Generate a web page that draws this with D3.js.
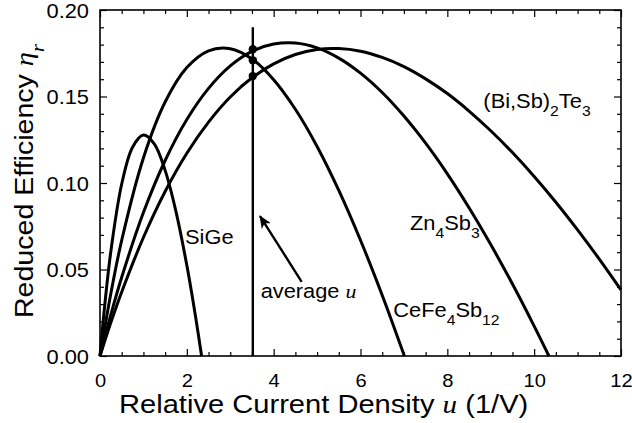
<!DOCTYPE html>
<html>
<head>
<meta charset="utf-8">
<script src="https://cdn.jsdelivr.net/npm/d3@7"></script>
<style>
  body { margin: 0; background: #fff; }
  svg { display: block; }
  text { font-family: "Liberation Sans", Arial, sans-serif; fill: #000; }
</style>
</head>
<body>
<svg id="chart" width="632" height="423"></svg>
<script>
// values
const xMajor = [0, 2, 4, 6, 8, 10, 12];
const yMajor = [0, 0.05, 0.10, 0.15, 0.20];

const siGeU   = [0, 0.1, 0.25, 0.5, 0.75, 1.0, 1.25, 1.5, 1.75, 2.0, 2.2, 2.34];
const siGeEta = [0, 0.0271, 0.0605, 0.0994, 0.1207, 0.1277, 0.1226, 0.1073, 0.0835, 0.0524, 0.0229, 0];

const ceFeU   = [0, 0.25, 0.5, 1, 1.5, 2, 2.5, 3, 3.5, 4, 4.5, 5, 5.5, 6, 6.5, 7.01];
const ceFeEta = [0, 0.0361, 0.0669, 0.1145, 0.1468, 0.1667, 0.1764, 0.1776, 0.1717, 0.1597, 0.1426, 0.1211, 0.0957, 0.0669, 0.0351, 0];

const znSbU   = [0, 0.25, 0.5, 1, 1.5, 2, 2.5, 3, 3.5, 4, 4.5, 5, 5.5, 6, 6.5, 7, 7.5, 8, 8.5, 9, 9.5, 10, 10.34];
const znSbEta = [0, 0.0239, 0.0455, 0.0829, 0.1130, 0.1367, 0.1547, 0.1677, 0.1761, 0.1803, 0.1809, 0.1781, 0.1722, 0.1635, 0.1523, 0.1387, 0.1230, 0.1053, 0.0857, 0.0644, 0.0416, 0.0173, 0];

const biSbU   = [0, 0.25, 0.5, 1, 1.5, 2, 2.5, 3, 3.5, 4, 4.5, 5, 5.5, 6, 6.5, 7, 7.5, 8, 8.5, 9, 9.5, 10, 10.5, 11, 11.5, 12];
const biSbEta = [0, 0.0193, 0.0370, 0.0685, 0.0951, 0.1172, 0.1352, 0.1497, 0.1608, 0.1689, 0.1743, 0.1772, 0.1777, 0.1762, 0.1726, 0.1673, 0.1602, 0.1517, 0.1416, 0.1302, 0.1176, 0.1038, 0.0889, 0.0729, 0.0560, 0.0382];

const avgU = 3.52;
const avgEta = [0.1773, 0.1709, 0.1618];
const avgLineTop = 0.19;

const series = [
  { u: siGeU, eta: siGeEta },
  { u: ceFeU, eta: ceFeEta },
  { u: znSbU, eta: znSbEta },
  { u: biSbU, eta: biSbEta }
];

const svg = d3.select("#chart");
const margin = { top: 10, right: 11, bottom: 67, left: 100 };
const width = 632, height = 423;
const stretch = 1.12; // glyphs in the picture are a little wide

const x = d3.scaleLinear().domain([0, 12]).range([margin.left, width - margin.right]);
const y = d3.scaleLinear().domain([0, 0.2]).range([height - margin.bottom, margin.top]);

const xMinor = d3.range(0, 12.01, 0.5).filter(v => v % 2 !== 0);
const yMinor = d3.range(0, 0.2001, 0.01).filter(v => Math.round(v * 100) % 5 !== 0);

// ticks, all pointing inward
function ticks(axisFn, scale, values, size, pos, labels) {
  const g = svg.append("g").attr("transform", pos)
    .call(axisFn(scale).tickValues(values).tickSizeInner(-size).tickSizeOuter(0)
      .tickFormat(labels || (() => "")));
  g.select(".domain").remove();
  g.selectAll(".tick line").attr("stroke", "#000").attr("stroke-width", 1.2);
  return g;
}

const bottom = height - margin.bottom, right = width - margin.right;
const gx = ticks(d3.axisBottom, x, xMajor, 7, `translate(0,${bottom})`, d3.format("d"));
ticks(d3.axisBottom, x, xMinor, 4, `translate(0,${bottom})`);
ticks(d3.axisTop, x, xMajor, 7, `translate(0,${margin.top})`);
ticks(d3.axisTop, x, xMinor, 4, `translate(0,${margin.top})`);
const gy = ticks(d3.axisLeft, y, yMajor, 7, `translate(${margin.left},0)`, d3.format(".2f"));
ticks(d3.axisLeft, y, yMinor, 4, `translate(${margin.left},0)`);
ticks(d3.axisRight, y, yMajor, 7, `translate(${right},0)`);
ticks(d3.axisRight, y, yMinor, 4, `translate(${right},0)`);

gx.selectAll("text")
  .attr("font-size", 19).attr("y", 0).attr("dy", 0)
  .attr("transform", "translate(0,31) scale(1.06,1)");
gy.selectAll("text")
  .attr("font-size", 19.5).attr("x", 0).attr("dy", 0)
  .attr("transform", `translate(-11,7) scale(${stretch},1)`);

svg.append("rect")
  .attr("x", margin.left).attr("y", margin.top)
  .attr("width", right - margin.left).attr("height", bottom - margin.top)
  .attr("fill", "none").attr("stroke", "#000").attr("stroke-width", 1.6);

// curves
const line = d3.line()
  .x(d => x(d[0])).y(d => y(d[1]))
  .curve(d3.curveCatmullRom.alpha(0.5));

svg.append("g").selectAll("path")
  .data(series)
  .join("path")
  .attr("d", s => line(s.u.map((u, i) => [u, s.eta[i]])))
  .attr("fill", "none").attr("stroke", "#000").attr("stroke-width", 3)
  .attr("stroke-linejoin", "round");

// average u marker line and dots
svg.append("line")
  .attr("x1", x(avgU)).attr("x2", x(avgU))
  .attr("y1", y(0)).attr("y2", y(avgLineTop))
  .attr("stroke", "#000").attr("stroke-width", 2.4);

svg.append("g").selectAll("circle")
  .data(avgEta)
  .join("circle")
  .attr("cx", x(avgU)).attr("cy", d => y(d)).attr("r", 4.2)
  .attr("fill", "#000");

// arrow
svg.append("defs").append("marker")
  .attr("id", "head").attr("markerUnits", "userSpaceOnUse")
  .attr("viewBox", "0 0 12 10").attr("refX", 11).attr("refY", 5)
  .attr("markerWidth", 13).attr("markerHeight", 11).attr("orient", "auto")
  .append("path").attr("d", "M0,0 L12,5 L0,10 L3,5 Z").attr("fill", "#000");

svg.append("line")
  .attr("x1", x(4.645)).attr("y1", y(0.0429))
  .attr("x2", x(3.685)).attr("y2", y(0.0809))
  .attr("stroke", "#000").attr("stroke-width", 2.4)
  .attr("marker-end", "url(#head)");

// labels: [text, kind] where kind is "n" normal, "s" subscript, "i" italic serif, "si" italic subscript
function label(px, py, parts, size, rotate) {
  const t = svg.append("text")
    .attr("font-size", size)
    .attr("transform", `translate(${px},${py})${rotate ? " rotate(-90)" : ""} scale(${stretch},1)`);
  let shift = 0;
  parts.forEach(([txt, kind]) => {
    const ts = t.append("tspan").text(txt);
    const sub = kind === "s" || kind === "si";
    const target = sub ? size * 0.42 : 0;
    if (target !== shift) { ts.attr("dy", target - shift); shift = target; }
    if (sub) ts.attr("font-size", size * 0.72);
    if (kind === "i" || kind === "si") ts.attr("font-family", "'Liberation Serif', 'Times New Roman', serif")
                        .attr("font-style", "italic");
  });
  return t;
}

label(x(1.958), y(0.0647), [["SiGe", "n"]], 19.5);
label(x(3.70), y(0.0334), [["average ", "n"], ["u", "i"]], 19.5);
label(x(6.755), y(0.0227), [["CeFe", "n"], ["4", "s"], ["Sb", "n"], ["12", "s"]], 19.5);
label(x(7.14), y(0.0728), [["Zn", "n"], ["4", "s"], ["Sb", "n"], ["3", "s"]], 19.5);
label(x(8.83), y(0.1432), [["(Bi,Sb)", "n"], ["2", "s"], ["Te", "n"], ["3", "s"]], 19.5);

// axis titles
label(119, 413, [["Relative Current Density ", "n"], ["u", "i"], [" (1/V)", "n"]], 26);
label(33, 318, [["Reduced Efficiency ", "n"], ["\u03b7", "i"], ["r", "si"]], 25.5, true);
</script>
</body>
</html>
